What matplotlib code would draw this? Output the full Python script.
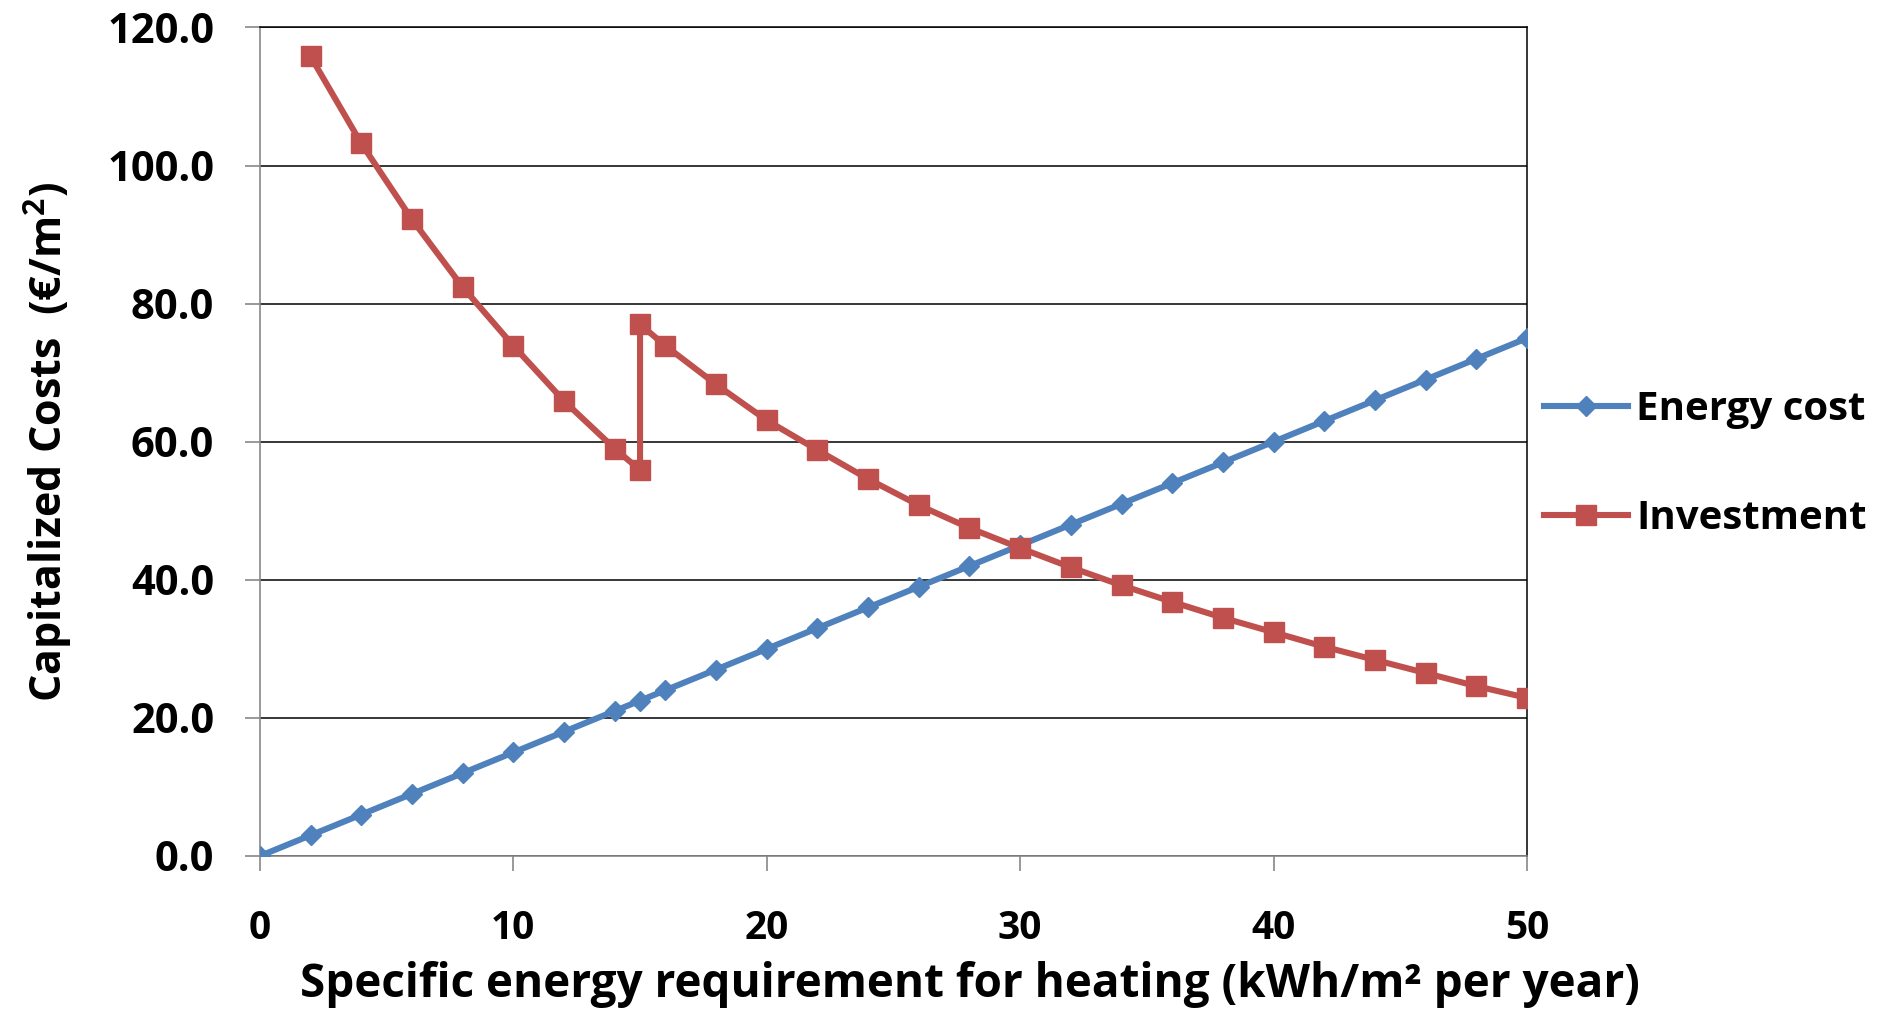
import numpy as np
import matplotlib.pyplot as plt

# Dữ liệu
heating_x = [0, 2, 4, 6, 8, 10, 12, 14, 15, 16, 18, 20, 22, 24, 26, 28, 30,
             32, 34, 36, 38, 40, 42, 44, 46, 48, 50]
energy_cost = [0.0, 3.0, 6.0, 9.0, 12.0, 15.0, 18.0, 21.0, 22.5, 24.0, 27.0,
               30.0, 33.0, 36.0, 39.0, 42.0, 45.0, 48.0, 51.0, 54.0, 57.0,
               60.0, 63.0, 66.0, 69.0, 72.0, 75.0]

invest_x = [2, 4, 6, 8, 10, 12, 14, 15, 15, 16, 18, 20, 22, 24, 26, 28, 30,
            32, 34, 36, 38, 40, 42, 44, 46, 48, 50]
investment = [115.8, 103.2, 92.2, 82.4, 73.9, 65.9, 59.0, 55.9, 77.0, 73.9,
              68.3, 63.1, 58.8, 54.6, 50.8, 47.5, 44.6, 41.8, 39.2, 36.8,
              34.5, 32.4, 30.3, 28.4, 26.5, 24.6, 22.9]

x_ticks = [0, 10, 20, 30, 40, 50]
y_ticks = [0, 20, 40, 60, 80, 100, 120]

BLUE = "#4F81BD"
RED = "#C0504D"

plt.rcParams['font.family'] = ['Open Sans', 'DejaVu Sans']
plt.rcParams['font.weight'] = 'bold'
plt.rcParams['mathtext.default'] = 'regular'

fig = plt.figure(figsize=(18.78, 10.13), dpi=100)
ax = fig.add_axes([0.1384, 0.155, 0.8131 - 0.1384, 0.9729 - 0.155])

ax.plot(heating_x, energy_cost, color=BLUE, lw=4.4, marker="D", ms=10,
        label="Energy cost", zorder=3)
ax.plot(invest_x, investment, color=RED, lw=4.4, marker="s", ms=15,
        label="Investment", zorder=3)

ax.set_xlim(0, 50)
ax.set_ylim(0, 120)
ax.set_xticks(x_ticks)
ax.set_yticks(y_ticks)
ax.set_yticklabels([f"{v:.1f}" for v in y_ticks])

# Lưới ngang màu đen
ax.grid(axis="y", color="black", lw=1.1)
ax.set_axisbelow(True)

for side in ["left", "bottom"]:
    ax.spines[side].set_color("#888888")
    ax.spines[side].set_linewidth(1.2)
for side in ["right", "top"]:
    ax.spines[side].set_color("black")
    ax.spines[side].set_linewidth(1.1)

ax.tick_params(axis="both", which="major", length=11, width=1.2,
               color="#888888")
ax.tick_params(axis="x", pad=27, labelsize=28)
ax.tick_params(axis="y", pad=22, labelsize=30)

ax.set_xlabel("Specific energy requirement for heating (kWh/m² per year)",
              fontsize=33, fontweight="bold", va="bottom")
ax.xaxis.set_label_coords(0.56, -0.183)
ax.set_ylabel("Capitalized Costs  (€/m$^2$)", fontsize=31,
              fontweight="bold", labelpad=23)

fig.legend(loc="center left", bbox_to_anchor=(0.822, 0.542), frameon=False,
           fontsize=29, handlelength=2.1, handletextpad=0.2,
           labelspacing=1.75, borderpad=0, borderaxespad=0)

fig.savefig("out.png", dpi=100)
